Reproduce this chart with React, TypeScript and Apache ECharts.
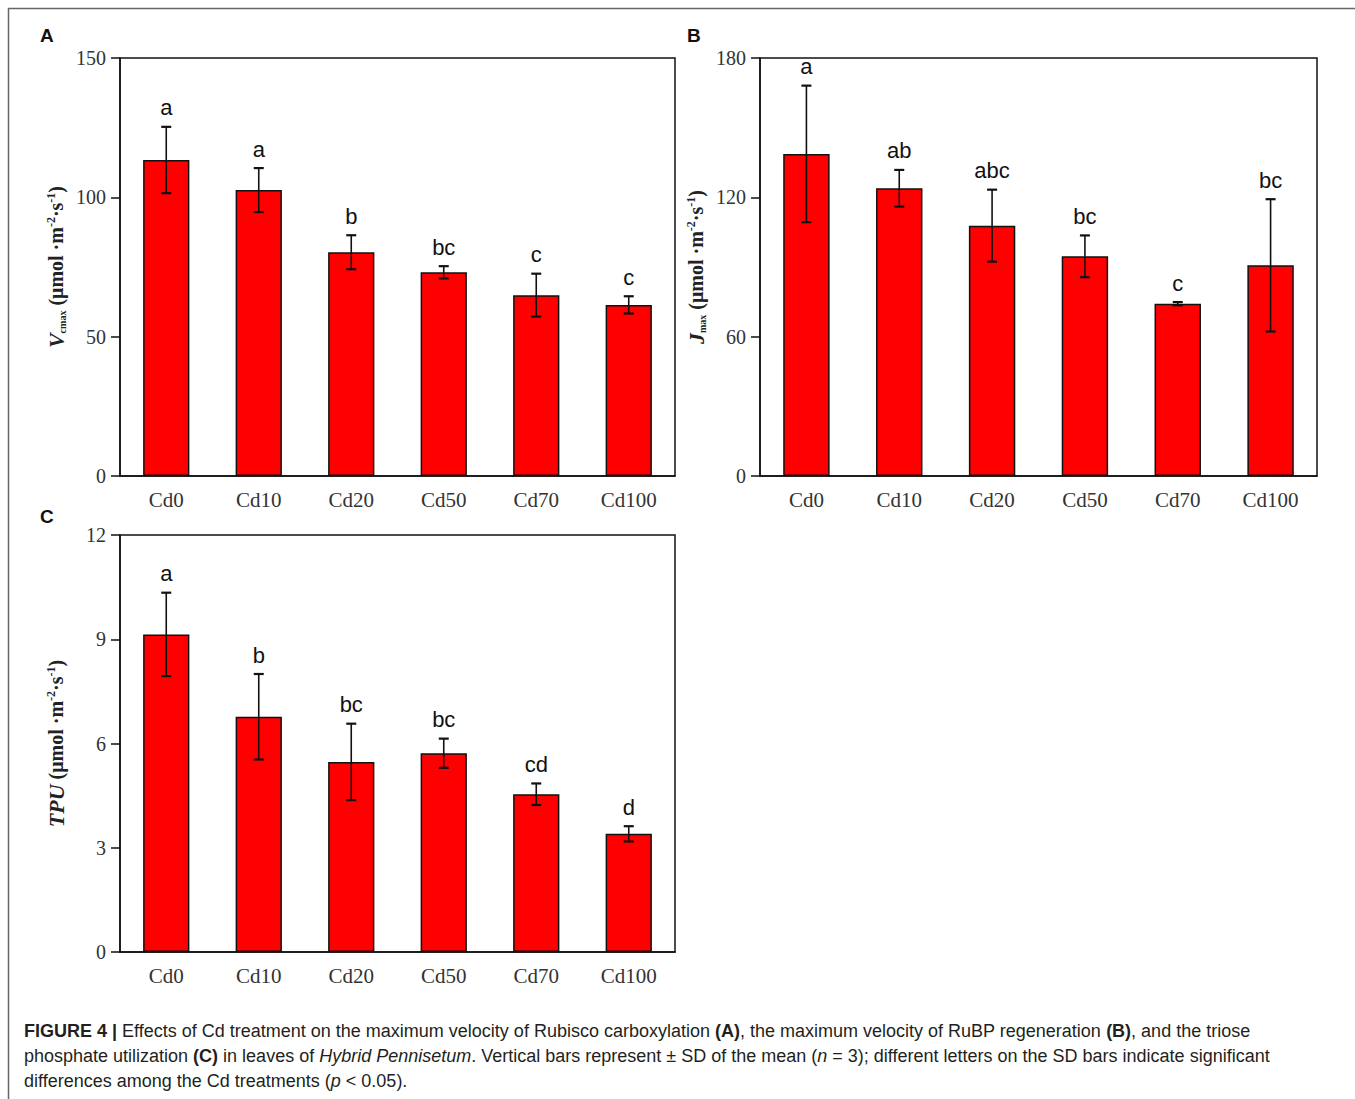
import React, { useEffect, useRef } from "react";
import * as echarts from "echarts";

const categories = ["Cd0", "Cd10", "Cd20", "Cd50", "Cd70", "Cd100"];

const vcmaxMean = [113.4, 102.6, 80.3, 73.1, 64.9, 61.4];
const vcmaxSD = [11.9, 7.9, 6.1, 2.2, 7.7, 3.1];
const vcmaxLetters = ["a", "a", "b", "bc", "c", "c"];

const jmaxMean = [138.7, 123.9, 107.8, 94.6, 74.2, 90.7];
const jmaxSD = [29.4, 7.9, 15.5, 9.0, 0.7, 28.5];
const jmaxLetters = ["a", "ab", "abc", "bc", "c", "bc"];

const tpuMean = [9.14, 6.77, 5.47, 5.72, 4.54, 3.4];
const tpuSD = [1.2, 1.23, 1.1, 0.42, 0.31, 0.22];
const tpuLetters = ["a", "b", "bc", "bc", "cd", "d"];

const vcmaxTicks = { min: 0, max: 150, interval: 50 };
const jmaxTicks = { min: 0, max: 180, interval: 60 };
const tpuTicks = { min: 0, max: 12, interval: 3 };

const SERIF = '"Liberation Serif", "Times New Roman", serif';
const SANS = '"Liberation Sans", Arial, sans-serif';

const nameRich = {
  n: { fontFamily: SERIF, fontWeight: "bold", fontSize: 20, color: "#222", lineHeight: 28, verticalAlign: "middle" },
  it: { fontFamily: SERIF, fontWeight: "bold", fontStyle: "italic", fontSize: 22, color: "#222", lineHeight: 28, verticalAlign: "middle" },
  sub: { fontFamily: SERIF, fontWeight: "bold", fontSize: 10, color: "#222", lineHeight: 28, verticalAlign: "bottom", padding: [0, 0, 3, 0] },
  sup: { fontFamily: SERIF, fontWeight: "bold", fontSize: 12, color: "#222", lineHeight: 28, verticalAlign: "top", padding: [3, 0, 0, 0] },
};

function App() {
  const ref = useRef<HTMLDivElement>(null);

  useEffect(() => {
    document.body.style.margin = "0";
    const chart = echarts.init(ref.current!, null, { renderer: "svg" });

    const grids = [
      { left: 120, top: 58, width: 555, height: 418 },
      { left: 760, top: 58, width: 557, height: 418 },
      { left: 120, top: 535, width: 555, height: 417 },
    ];

    const means = [vcmaxMean, jmaxMean, tpuMean];
    const sds = [vcmaxSD, jmaxSD, tpuSD];
    const letters = [vcmaxLetters, jmaxLetters, tpuLetters];
    const ticks = [vcmaxTicks, jmaxTicks, tpuTicks];
    const names = [
      "{it|V}{sub|cmax}{n| (μmol ·m}{sup|-2}{n|·s}{sup|-1}{n|)}",
      "{it|J}{sub|max}{n| (μmol ·m}{sup|-2}{n|·s}{sup|-1}{n|)}",
      "{it|TPU}{n| (μmol ·m}{sup|-2}{n|·s}{sup|-1}{n|)}",
    ];

    const xAxis = grids.map((_, g) => ({
      type: "category",
      gridIndex: g,
      data: categories,
      axisLine: { lineStyle: { color: "#111", width: 1.5 } },
      axisTick: { alignWithLabel: true, length: 6, lineStyle: { color: "#111", width: 1.5 } },
      axisLabel: { fontFamily: SERIF, fontSize: 21, color: "#333", margin: 13 },
    }));

    const yAxis = grids.map((_, g) => ({
      type: "value",
      gridIndex: g,
      min: ticks[g].min,
      max: ticks[g].max,
      interval: ticks[g].interval,
      splitLine: { show: false },
      axisLine: { show: true, lineStyle: { color: "#111", width: 1.5 } },
      axisTick: { show: true, length: 9, lineStyle: { color: "#111", width: 1.5 } },
      axisLabel: { fontFamily: SERIF, fontSize: 20, color: "#333", margin: 14 },
      name: names[g],
      nameLocation: "middle",
      nameRotate: 90,
      nameGap: 50,
      nameTextStyle: { rich: nameRich },
    }));

    const series: any[] = [];
    grids.forEach((_, g) => {
      series.push({
        type: "bar",
        xAxisIndex: g,
        yAxisIndex: g,
        data: means[g],
        barWidth: "50%",
        itemStyle: { color: "#ff0000", borderColor: "#111", borderWidth: 1.5 },
        z: 2,
      });
      const lt = letters[g];
      series.push({
        type: "custom",
        xAxisIndex: g,
        yAxisIndex: g,
        z: 5,
        clip: false,
        data: categories.map((_c, i) => [i, means[g][i], sds[g][i]]),
        renderItem: (params: any, api: any) => {
          const i = api.value(0);
          const m = api.value(1);
          const s = api.value(2);
          const top = api.coord([i, m + s]);
          const bot = api.coord([i, m - s]);
          const x = top[0];
          const cap = 5;
          const ls = { stroke: "#111", lineWidth: 1.6 };
          return {
            type: "group",
            children: [
              { type: "line", shape: { x1: x, y1: top[1], x2: x, y2: bot[1] }, style: ls },
              { type: "line", shape: { x1: x - cap, y1: top[1], x2: x + cap, y2: top[1] }, style: { stroke: "#111", lineWidth: 2.2 } },
              { type: "line", shape: { x1: x - cap, y1: bot[1], x2: x + cap, y2: bot[1] }, style: { stroke: "#111", lineWidth: 2.2 } },
              {
                type: "text",
                style: {
                  text: lt[params.dataIndex],
                  x: x,
                  y: top[1] - 8,
                  align: "center",
                  verticalAlign: "bottom",
                  fontFamily: SANS,
                  fontSize: 22,
                  fill: "#111",
                },
              },
            ],
          };
        },
      });
    });

    const captionRich = {
      b: { fontFamily: SANS, fontWeight: "bold", fontSize: 18, fill: "#231f20", color: "#231f20" },
      i: { fontFamily: SANS, fontStyle: "italic", fontSize: 18, fill: "#231f20", color: "#231f20" },
      r: { fontFamily: SANS, fontSize: 18, fill: "#231f20", color: "#231f20" },
    };
    const capLine = (text: string, y: number) => ({
      type: "text",
      left: 24,
      top: y - 10,
      style: { text, rich: captionRich, fontFamily: SANS, fontSize: 18, fill: "#231f20" },
    });

    chart.setOption({
      animation: false,
      backgroundColor: "#fff",
      grid: grids.map((gr) => ({ ...gr, show: true, borderColor: "#111", borderWidth: 1.5, containLabel: false })),
      xAxis,
      yAxis,
      series,
      graphic: [
        { type: "rect", shape: { x: 8.5, y: 8.5, width: 1400, height: 1200 }, style: { fill: "none", stroke: "#666", lineWidth: 1.5 }, silent: true },
        { type: "text", left: 40, top: 26, style: { text: "A", fontFamily: SANS, fontWeight: "bold", fontSize: 19, fill: "#111" } },
        { type: "text", left: 687, top: 26, style: { text: "B", fontFamily: SANS, fontWeight: "bold", fontSize: 19, fill: "#111" } },
        { type: "text", left: 40, top: 507, style: { text: "C", fontFamily: SANS, fontWeight: "bold", fontSize: 19, fill: "#111" } },
        capLine(
          "{b|FIGURE 4 |}{r| Effects of Cd treatment on the maximum velocity of Rubisco carboxylation }{b|(A)}{r|, the maximum velocity of RuBP regeneration }{b|(B)}{r|, and the triose}",
          1032
        ),
        capLine(
          "{r|phosphate utilization }{b|(C)}{r| in leaves of }{i|Hybrid Pennisetum}{r|. Vertical bars represent ± SD of the mean (}{i|n}{r| = 3); different letters on the SD bars indicate significant}",
          1057
        ),
        capLine("{r|differences among the Cd treatments (}{i|p}{r| < 0.05).}", 1082),
      ],
    });

    return () => chart.dispose();
  }, []);

  return <div ref={ref} style={{ width: 1355, height: 1099 }} />;
}

export default App;
